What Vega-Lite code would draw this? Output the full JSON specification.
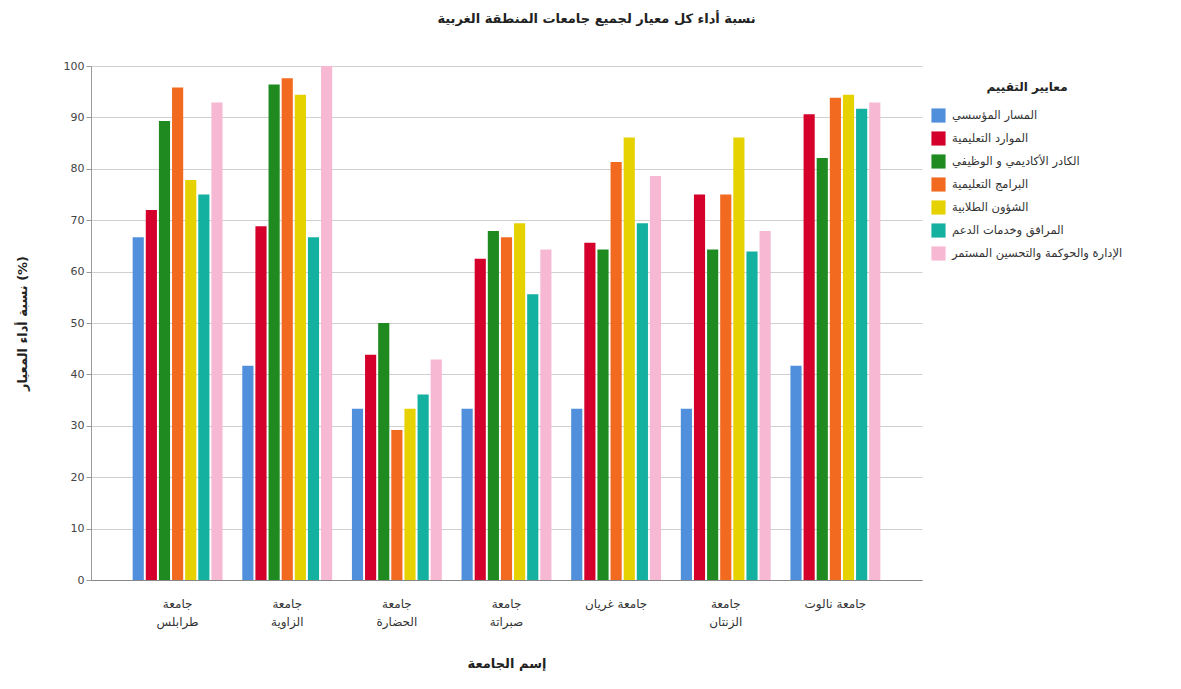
{
  "$schema": "https://vega.github.io/schema/vega-lite/v6.json",
  "autosize": {"type": "none"},
  "width": 831,
  "height": 514,
  "padding": {"left": 91, "top": 66, "right": 259, "bottom": 109},
  "background": "white",
  "config": {
    "font": "DejaVu Sans",
    "view": {"stroke": null},
    "axis": {"labelFont": "DejaVu Sans", "titleFont": "DejaVu Sans"},
    "legend": {"labelFont": "DejaVu Sans", "titleFont": "DejaVu Sans"}
  },
  "title": {
    "text": "نسبة أداء كل معيار لجميع جامعات المنطقة الغربية",
    "fontSize": 13,
    "fontWeight": "bold",
    "color": "#222",
    "anchor": "middle",
    "frame": "group",
    "dx": 90,
    "offset": 34
  },
  "data": {
    "values": [
      {"u": "جامعة طرابلس", "c": "المسار المؤسسي", "v": 66.7},
      {"u": "جامعة طرابلس", "c": "الموارد التعليمية", "v": 72},
      {"u": "جامعة طرابلس", "c": "الكادر الأكاديمي و الوظيفي", "v": 89.3},
      {"u": "جامعة طرابلس", "c": "البرامج التعليمية", "v": 95.8},
      {"u": "جامعة طرابلس", "c": "الشؤون الطلابية", "v": 77.8},
      {"u": "جامعة طرابلس", "c": "المرافق وخدمات الدعم", "v": 75},
      {"u": "جامعة طرابلس", "c": "الإدارة والحوكمة والتحسين المستمر", "v": 92.9},
      {"u": "جامعة الزاوية", "c": "المسار المؤسسي", "v": 41.7},
      {"u": "جامعة الزاوية", "c": "الموارد التعليمية", "v": 68.8},
      {"u": "جامعة الزاوية", "c": "الكادر الأكاديمي و الوظيفي", "v": 96.4},
      {"u": "جامعة الزاوية", "c": "البرامج التعليمية", "v": 97.6},
      {"u": "جامعة الزاوية", "c": "الشؤون الطلابية", "v": 94.4},
      {"u": "جامعة الزاوية", "c": "المرافق وخدمات الدعم", "v": 66.7},
      {"u": "جامعة الزاوية", "c": "الإدارة والحوكمة والتحسين المستمر", "v": 100},
      {"u": "جامعة الحضارة", "c": "المسار المؤسسي", "v": 33.3},
      {"u": "جامعة الحضارة", "c": "الموارد التعليمية", "v": 43.8},
      {"u": "جامعة الحضارة", "c": "الكادر الأكاديمي و الوظيفي", "v": 50},
      {"u": "جامعة الحضارة", "c": "البرامج التعليمية", "v": 29.2},
      {"u": "جامعة الحضارة", "c": "الشؤون الطلابية", "v": 33.3},
      {"u": "جامعة الحضارة", "c": "المرافق وخدمات الدعم", "v": 36.1},
      {"u": "جامعة الحضارة", "c": "الإدارة والحوكمة والتحسين المستمر", "v": 42.9},
      {"u": "جامعة صبراتة", "c": "المسار المؤسسي", "v": 33.3},
      {"u": "جامعة صبراتة", "c": "الموارد التعليمية", "v": 62.5},
      {"u": "جامعة صبراتة", "c": "الكادر الأكاديمي و الوظيفي", "v": 67.9},
      {"u": "جامعة صبراتة", "c": "البرامج التعليمية", "v": 66.7},
      {"u": "جامعة صبراتة", "c": "الشؤون الطلابية", "v": 69.4},
      {"u": "جامعة صبراتة", "c": "المرافق وخدمات الدعم", "v": 55.6},
      {"u": "جامعة صبراتة", "c": "الإدارة والحوكمة والتحسين المستمر", "v": 64.3},
      {"u": "جامعة غريان", "c": "المسار المؤسسي", "v": 33.3},
      {"u": "جامعة غريان", "c": "الموارد التعليمية", "v": 65.6},
      {"u": "جامعة غريان", "c": "الكادر الأكاديمي و الوظيفي", "v": 64.3},
      {"u": "جامعة غريان", "c": "البرامج التعليمية", "v": 81.3},
      {"u": "جامعة غريان", "c": "الشؤون الطلابية", "v": 86.1},
      {"u": "جامعة غريان", "c": "المرافق وخدمات الدعم", "v": 69.4},
      {"u": "جامعة غريان", "c": "الإدارة والحوكمة والتحسين المستمر", "v": 78.6},
      {"u": "جامعة الزنتان", "c": "المسار المؤسسي", "v": 33.3},
      {"u": "جامعة الزنتان", "c": "الموارد التعليمية", "v": 75},
      {"u": "جامعة الزنتان", "c": "الكادر الأكاديمي و الوظيفي", "v": 64.3},
      {"u": "جامعة الزنتان", "c": "البرامج التعليمية", "v": 75},
      {"u": "جامعة الزنتان", "c": "الشؤون الطلابية", "v": 86.1},
      {"u": "جامعة الزنتان", "c": "المرافق وخدمات الدعم", "v": 63.9},
      {"u": "جامعة الزنتان", "c": "الإدارة والحوكمة والتحسين المستمر", "v": 67.9},
      {"u": "جامعة نالوت", "c": "المسار المؤسسي", "v": 41.7},
      {"u": "جامعة نالوت", "c": "الموارد التعليمية", "v": 90.6},
      {"u": "جامعة نالوت", "c": "الكادر الأكاديمي و الوظيفي", "v": 82.1},
      {"u": "جامعة نالوت", "c": "البرامج التعليمية", "v": 93.8},
      {"u": "جامعة نالوت", "c": "الشؤون الطلابية", "v": 94.4},
      {"u": "جامعة نالوت", "c": "المرافق وخدمات الدعم", "v": 91.7},
      {"u": "جامعة نالوت", "c": "الإدارة والحوكمة والتحسين المستمر", "v": 92.9}
    ]
  },
  "mark": {"type": "bar"},
  "encoding": {
    "x": {
      "field": "u",
      "type": "nominal",
      "sort": ["جامعة طرابلس", "جامعة الزاوية", "جامعة الحضارة", "جامعة صبراتة", "جامعة غريان", "جامعة الزنتان", "جامعة نالوت"],
      "scale": {"paddingInner": 0.18, "paddingOuter": 0.38},
      "axis": {
        "title": "إسم الجامعة",
        "titleFontSize": 13,
        "titleFontWeight": "bold",
        "titleColor": "#222",
        "titlePadding": 30,
        "labelAngle": 0,
        "labelFontSize": 12,
        "labelColor": "#333",
        "labelPadding": 18,
        "labelLineHeight": 18,
        "ticks": false,
        "domainColor": "#888",
        "labelExpr": "datum.value == 'جامعة غريان' || datum.value == 'جامعة نالوت' ? datum.value : split(datum.value, ' ')"
      }
    },
    "xOffset": {
      "field": "c",
      "type": "nominal",
      "sort": ["المسار المؤسسي", "الموارد التعليمية", "الكادر الأكاديمي و الوظيفي", "البرامج التعليمية", "الشؤون الطلابية", "المرافق وخدمات الدعم", "الإدارة والحوكمة والتحسين المستمر"],
      "scale": {"paddingInner": 0.15, "paddingOuter": 0}
    },
    "y": {
      "field": "v",
      "type": "quantitative",
      "scale": {"domain": [0, 100], "nice": false},
      "axis": {
        "title": "نسبة أداء المعيار (%)",
        "titleFontSize": 13,
        "titleFontWeight": "bold",
        "titleColor": "#222",
        "titlePadding": 34,
        "values": [0, 10, 20, 30, 40, 50, 60, 70, 80, 90, 100],
        "labelFontSize": 11,
        "labelColor": "#444",
        "labelOverlap": false,
        "tickColor": "#999",
        "tickSize": 5,
        "domainColor": "#999",
        "gridColor": "#d0d0d0",
        "grid": true
      }
    },
    "color": {
      "field": "c",
      "type": "nominal",
      "scale": {
        "domain": ["المسار المؤسسي", "الموارد التعليمية", "الكادر الأكاديمي و الوظيفي", "البرامج التعليمية", "الشؤون الطلابية", "المرافق وخدمات الدعم", "الإدارة والحوكمة والتحسين المستمر"],
        "range": ["#4f8fdb", "#d4002b", "#1f8a1f", "#f26a1f", "#e6d200", "#14b0a0", "#f7b8d3"]
      },
      "legend": {
        "title": "معايير التقييم",
        "orient": "none",
        "legendX": 840,
        "legendY": 16,
        "titleFontSize": 12,
        "titleFontWeight": "bold",
        "titleColor": "#222",
        "titlePadding": 14,
        "titleAnchor": "middle",
        "labelFontSize": 11.5,
        "labelColor": "#333",
        "labelLimit": 320,
        "symbolType": "square",
        "symbolSize": 200,
        "symbolStrokeWidth": 0,
        "rowPadding": 8,
        "labelOffset": 6
      }
    }
  }
}
